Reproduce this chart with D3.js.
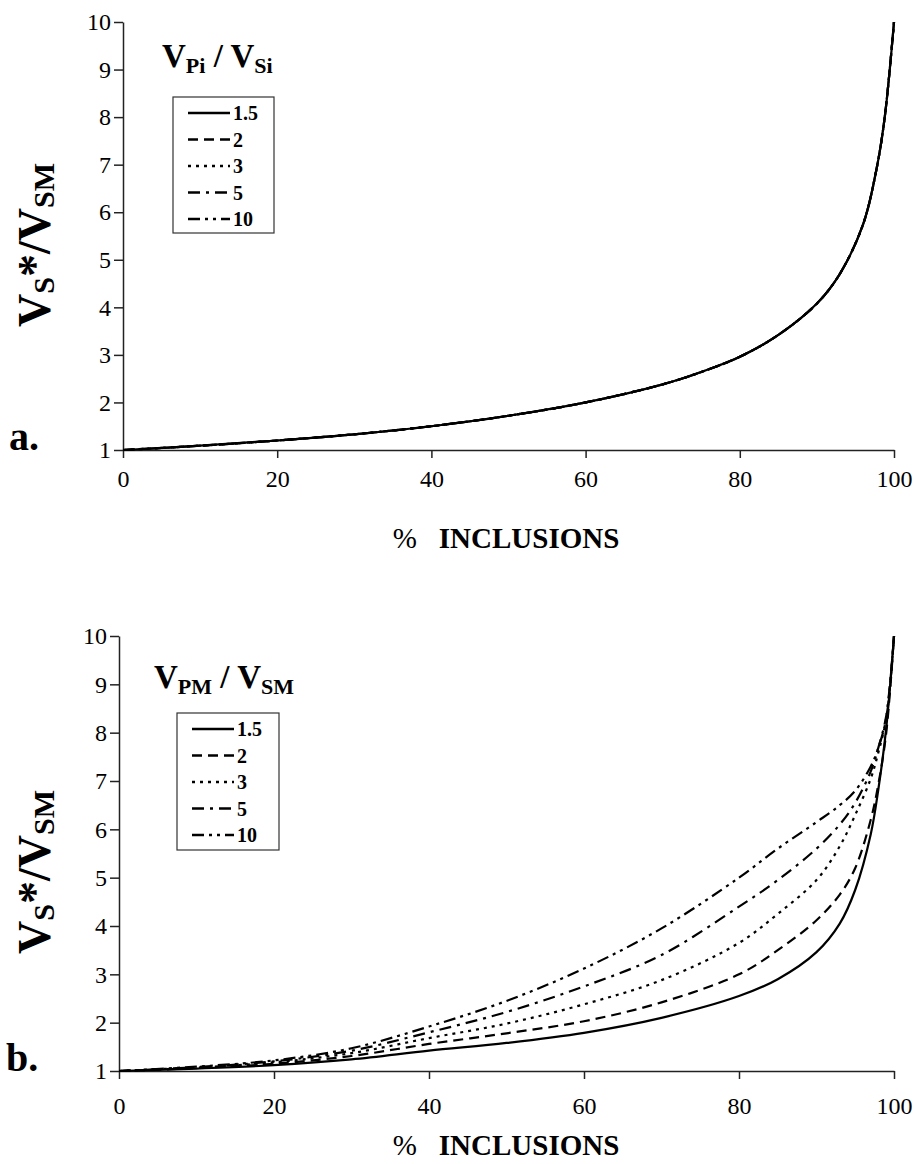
<!DOCTYPE html>
<html>
<head>
<meta charset="utf-8">
<script src="https://cdn.jsdelivr.net/npm/d3@7"></script>
<style>
  html, body { margin: 0; padding: 0; background: #fff; }
  svg { display: block; }
  text { font-family: "Liberation Serif", "Times New Roman", serif; fill: #000; }
</style>
</head>
<body>
<svg id="chart" width="914" height="1164"></svg>
<script>
// ---------- DATA ----------
const xTicks = [0, 20, 40, 60, 80, 100];
const yTicks = [1, 2, 3, 4, 5, 6, 7, 8, 9, 10];
const seriesNames = ["1.5", "2", "3", "5", "10"];

// panel a: all five ratios give the same curve
const xA = [0, 10, 20, 30, 40, 50, 60, 70, 75, 80, 85, 90, 93, 96, 97.7, 98.8, 100];
const yA = [1, 1.09, 1.2, 1.33, 1.5, 1.72, 2.0, 2.38, 2.64, 2.96, 3.42, 4.08, 4.71, 5.75, 6.88, 8.0, 10];

// panel b
const xB   = [0, 10, 20, 30, 40, 50, 60, 70, 80, 85, 90, 93, 95, 97, 98, 99, 100];
const yB15 = [1, 1.05, 1.12, 1.24, 1.42, 1.58, 1.79, 2.1, 2.55, 2.9, 3.46, 4.05, 4.75, 5.9, 6.85, 8.1, 10];
const yB2  = [1, 1.06, 1.15, 1.31, 1.56, 1.78, 2.03, 2.42, 3.0, 3.5, 4.12, 4.65, 5.2, 6.2, 6.95, 8.0, 10];
const yB3  = [1, 1.07, 1.18, 1.37, 1.68, 1.98, 2.38, 2.88, 3.65, 4.25, 4.95, 5.65, 6.3, 7.05, 7.6, 8.3, 10];
const yB5  = [1, 1.08, 1.2, 1.42, 1.8, 2.22, 2.75, 3.4, 4.4, 4.95, 5.6, 6.1, 6.55, 7.2, 7.7, 8.35, 10];
const yB10 = [1, 1.09, 1.22, 1.47, 1.92, 2.45, 3.12, 3.95, 5.0, 5.6, 6.15, 6.5, 6.8, 7.3, 7.7, 8.3, 10];

// ---------- STYLE ----------
const dashes = [null, "10,6", "3,5", "12,6,3,6", "12,5,3,5,3,5"];

const svg = d3.select("#chart");

function panel(cfg) {
  const x = d3.scaleLinear().domain([0, 100]).range([cfg.left, cfg.right]);
  const y = d3.scaleLinear().domain([1, 10]).range([cfg.bottom, cfg.top]);
  const g = svg.append("g");

  // axes
  const ax = g.append("g").attr("transform", `translate(0,${cfg.bottom})`)
    .call(d3.axisBottom(x).tickValues(xTicks).tickSize(8).tickSizeOuter(0).tickPadding(cfg.xpad));
  const ay = g.append("g").attr("transform", `translate(${cfg.left},0)`)
    .call(d3.axisLeft(y).tickValues(yTicks).tickSize(9).tickSizeOuter(0).tickPadding(3));
  [ax, ay].forEach(a => {
    a.selectAll("path, line").attr("stroke", "#222").attr("stroke-width", 1.5);
    a.selectAll("text").style("font-size", "24px").attr("fill", "#000")
      .style("font-family", '"Liberation Serif", serif');
  });
  ax.selectAll("text").attr("dy", "0.71em");

  // lines
  const line = d3.line().x(d => x(d[0])).y(d => y(d[1])).curve(d3.curveCatmullRom.alpha(0.5));
  cfg.series.forEach((ys, i) => {
    const pts = cfg.xs.map((v, k) => [v, ys[k]]);
    g.append("path").datum(pts).attr("d", line)
      .attr("fill", "none").attr("stroke", "#000").attr("stroke-width", 2.2)
      .attr("stroke-dasharray", dashes[i]);
  });

  // legend title
  const lt = g.append("text").attr("x", cfg.ltx).attr("y", cfg.lty)
    .style("font-weight", "bold").style("font-size", "33px");
  lt.append("tspan").text("V");
  lt.append("tspan").text(cfg.sub1).style("font-size", "22px").attr("dy", 6);
  lt.append("tspan").text(" / ").attr("dy", -6);
  lt.append("tspan").text("V");
  lt.append("tspan").text(cfg.sub2).style("font-size", "22px").attr("dy", 6);

  // legend box
  g.append("rect").attr("x", cfg.lbx).attr("y", cfg.lby).attr("width", cfg.lbw).attr("height", cfg.lbh)
    .attr("fill", "#fff").attr("stroke", "#333").attr("stroke-width", 1.2);
  seriesNames.forEach((n, i) => {
    const yy = cfg.lby + 16 + i * 26.5;
    g.append("line").attr("x1", cfg.lbx + 15).attr("x2", cfg.lbx + 57)
      .attr("y1", yy).attr("y2", yy)
      .attr("stroke", "#000").attr("stroke-width", 2.4).attr("stroke-dasharray", dashes[i]);
    g.append("text").attr("x", cfg.lbx + 60).attr("y", yy + 7)
      .style("font-weight", "bold").style("font-size", "20px").text(n);
  });

  // y axis title (rotated)
  const yt = g.append("text").attr("transform", `translate(50,${cfg.ytc}) rotate(-90)`)
    .attr("text-anchor", "middle").style("font-weight", "bold").style("font-size", "46px");
  yt.append("tspan").text("V");
  yt.append("tspan").text("S").style("font-size", "30px").attr("dy", 4);
  yt.append("tspan").text("*/").attr("dy", -4);
  yt.append("tspan").text("V");
  yt.append("tspan").text("SM").style("font-size", "30px").attr("dy", 4);

  // x axis title
  const xt = g.append("text").attr("x", 506).attr("y", cfg.xty).attr("text-anchor", "middle")
    .style("font-size", "29px");
  xt.append("tspan").text("%").style("font-weight", "normal");
  xt.append("tspan").text("INCLUSIONS").style("font-weight", "bold").attr("dx", 22);

  // panel letter
  g.append("text").attr("x", cfg.letx).attr("y", cfg.bottom).style("font-weight", "bold")
    .style("font-size", "40px").text(cfg.letter);
}

panel({
  left: 123, right: 894, top: 22, bottom: 450, xpad: 12,
  xs: xA, series: [yA, yA, yA, yA, yA],
  sub1: "Pi", sub2: "Si", ltx: 162, lty: 67,
  lbx: 173, lby: 97, lbw: 101, lbh: 136,
  ytc: 245, xty: 548, letter: "a.", letx: 9
});

panel({
  left: 119, right: 894, top: 636, bottom: 1071, xpad: 18,
  xs: xB, series: [yB15, yB2, yB3, yB5, yB10],
  sub1: "PM", sub2: "SM", ltx: 154, lty: 688,
  lbx: 177, lby: 713, lbw: 102, lbh: 137,
  ytc: 872, xty: 1155, letter: "b.", letx: 6
});
</script>
</body>
</html>
